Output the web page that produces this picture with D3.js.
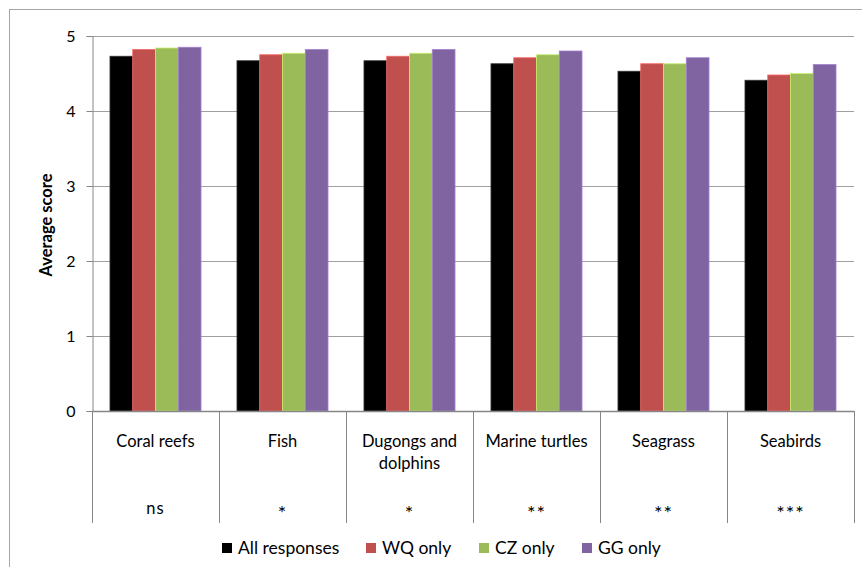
<!doctype html>
<html lang="en">
<head>
<meta charset="UTF-8">
<title>Average score</title>
<script src="https://cdn.jsdelivr.net/npm/d3@7"></script>
<style>
  body { margin: 0; background: #fff; }
  text { font-family: Lato, "Open Sans", sans-serif; fill: #000; }
</style>
</head>
<body>
<script>
  var categories = ["Coral reefs", "Fish", "Dugongs and dolphins", "Marine turtles", "Seagrass", "Seabirds"];
  var catLines = [["Coral reefs"], ["Fish"], ["Dugongs and", "dolphins"], ["Marine turtles"], ["Seagrass"], ["Seabirds"]];
  var significance = ["ns", "*", "*", "**", "**", "***"];
  var seriesNames = ["All responses", "WQ only", "CZ only", "GG only"];
  var seriesColors = ["#000000", "#C0504D", "#9BBB59", "#8064A2"];

  var allResponses = [4.73, 4.67, 4.67, 4.63, 4.53, 4.41];
  var wqOnly       = [4.82, 4.75, 4.73, 4.71, 4.63, 4.48];
  var czOnly       = [4.84, 4.77, 4.77, 4.75, 4.63, 4.50];
  var ggOnly       = [4.85, 4.82, 4.82, 4.80, 4.71, 4.62];
  var seriesValues = [allResponses, wqOnly, czOnly, ggOnly];
  var yTicks = [0, 1, 2, 3, 4, 5];

  var W = 862, H = 567;
  var plotLeft = 92, plotRight = 854, plotTop = 36, plotBottom = 411, tableBottom = 523;

  var svg = d3.select("body").append("svg")
    .attr("width", W)
    .attr("height", H);

  // outer chart border
  svg.append("rect")
    .attr("x", 9.5).attr("y", 9.5)
    .attr("width", W).attr("height", H)
    .attr("fill", "none")
    .attr("stroke", "#a6a6a6");

  var x = d3.scaleBand()
    .domain(categories)
    .range([plotLeft, plotRight]);

  var x1 = d3.scaleBand()
    .domain(seriesNames)
    .range([0, x.bandwidth()])
    .paddingOuter(0.79);

  var y = d3.scaleLinear()
    .domain([0, 5])
    .range([plotBottom, plotTop]);

  // gridlines
  svg.append("g")
    .selectAll("line")
    .data(yTicks.filter(function(d) { return d > 0; }))
    .enter().append("line")
    .attr("x1", plotLeft).attr("x2", plotRight)
    .attr("y1", function(d) { return Math.round(y(d)) + 0.5; })
    .attr("y2", function(d) { return Math.round(y(d)) + 0.5; })
    .attr("stroke", "#a0a0a0")
    .attr("stroke-width", 1.2);

  // bars
  var groups = svg.append("g")
    .selectAll("g")
    .data(seriesNames)
    .enter().append("g")
    .attr("fill", function(d, i) { return seriesColors[i]; })
    .attr("stroke", function(d, i) { return i === 0 ? "#333" : d3.color(seriesColors[i]).brighter(0.7); })
    .attr("stroke-width", 0.8);

  groups.selectAll("rect")
    .data(function(s, i) {
      return categories.map(function(c, j) { return { cat: c, series: s, value: seriesValues[i][j] }; });
    })
    .enter().append("rect")
    .attr("x", function(d) { return x(d.cat) + x1(d.series); })
    .attr("width", x1.bandwidth())
    .attr("y", function(d) { return y(d.value); })
    .attr("height", function(d) { return y(0) - y(d.value); });

  // y axis
  var yAxis = d3.axisLeft(y)
    .tickValues(yTicks)
    .tickFormat(d3.format("d"))
    .tickSize(6)
    .tickPadding(11);

  var yg = svg.append("g")
    .attr("transform", "translate(" + (plotLeft + 0.5) + ",0)")
    .call(yAxis);
  yg.select(".domain").attr("stroke", "#868686");
  yg.selectAll(".tick line").attr("stroke", "#868686");
  yg.selectAll(".tick text")
    .attr("font-size", "16px")
    .style("font-family", "Lato, sans-serif");

  // category table lines
  svg.append("line")
    .attr("x1", plotLeft).attr("x2", plotRight)
    .attr("y1", plotBottom + 0.5).attr("y2", plotBottom + 0.5)
    .attr("stroke", "#868686").attr("stroke-width", 1.5);

  var bounds = categories.map(function(c) { return x(c); }).concat([plotRight]);
  svg.append("g")
    .selectAll("line")
    .data(bounds)
    .enter().append("line")
    .attr("x1", function(d) { return Math.round(d) + 0.5; })
    .attr("x2", function(d) { return Math.round(d) + 0.5; })
    .attr("y1", plotBottom).attr("y2", tableBottom)
    .attr("stroke", "#868686");

  // category labels
  var labels = svg.append("g")
    .selectAll("text")
    .data(categories)
    .enter().append("text")
    .attr("text-anchor", "middle")
    .attr("font-size", "16.5px");

  labels.selectAll("tspan")
    .data(function(d, i) { return catLines[i]; })
    .enter().append("tspan")
    .attr("x", function() { var c = d3.select(this.parentNode).datum(); return x(c) + x.bandwidth() / 2; })
    .attr("y", function(d, i) { return 447 + i * 22; })
    .text(function(d) { return d; });

  svg.append("g")
    .selectAll("text")
    .data(categories)
    .enter().append("text")
    .attr("x", function(d) { return x(d) + x.bandwidth() / 2; })
    .attr("y", function(d, i) { return significance[i] === "ns" ? 514 : 520; })
    .attr("text-anchor", "middle")
    .attr("font-size", function(d, i) { return significance[i] === "ns" ? "16.5px" : "20px"; })
    .attr("letter-spacing", "1px")
    .text(function(d, i) { return significance[i]; });

  // y title
  svg.append("text")
    .attr("transform", "translate(52,225) rotate(-90)")
    .attr("text-anchor", "middle")
    .attr("font-size", "16.5px")
    .attr("font-weight", "bold")
    .text("Average score");

  // legend
  var legendX = [222, 366, 479, 582];
  var leg = svg.append("g")
    .selectAll("g")
    .data(seriesNames)
    .enter().append("g")
    .attr("transform", function(d, i) { return "translate(" + legendX[i] + ",543)"; });

  leg.append("rect")
    .attr("width", 10).attr("height", 10)
    .attr("fill", function(d, i) { return seriesColors[i]; });

  leg.append("text")
    .attr("x", 16)
    .attr("y", 11)
    .attr("font-size", "17.5px")
    .text(function(d) { return d; });
</script>
</body>
</html>
